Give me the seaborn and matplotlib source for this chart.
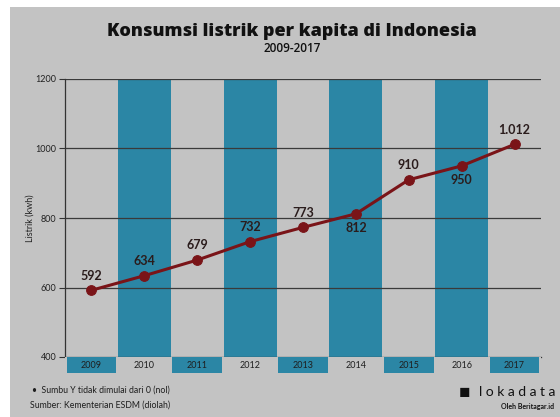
import matplotlib
matplotlib.use("Agg")
import matplotlib.pyplot as plt
import seaborn as sns
import pandas as pd
import numpy as np
from matplotlib.patches import Rectangle

# ---- data ----
years = ["2009", "2010", "2011", "2012", "2013", "2014", "2015", "2016", "2017"]
values = [592, 634, 679, 732, 773, 812, 910, 950, 1012]
value_labels = ["592", "634", "679", "732", "773", "812", "910", "950", "1.012"]
label_below = [False, False, False, False, False, True, False, True, False]
y_ticks = [400, 600, 800, 1000, 1200]
title = "Konsumsi listrik per kapita di Indonesia"
subtitle = "2009-2017"
y_label = "Listrik (kwh)"
note = "•  Sumbu Y tidak dimulai dari 0 (nol)"
source = "Sumber: Kementerian ESDM (diolah)"

BG = "#c3c3c3"
BLUE = "#2b86a5"
LINE = "#7a1418"
TXT = "#2a1c1c"

sns.set_theme(style="white")
plt.rcParams["font.family"] = ["Lato", "DejaVu Sans"]

W, H = 560, 417
fig = plt.figure(figsize=(W / 100, H / 100), dpi=100)
fig.patch.set_facecolor("white")
fig.patches.append(Rectangle((10 / W, 0), 1 - 10 / W, 1 - 7 / H,
                             transform=fig.transFigure, facecolor=BG,
                             edgecolor="none", zorder=-10))

ax_l, ax_r = 65, 541
ax_t, ax_b = 79, 357
ax = fig.add_axes([ax_l / W, 1 - ax_b / H, (ax_r - ax_l) / W, (ax_b - ax_t) / H])
ax.set_facecolor(BG)

idx = np.arange(len(years))
df = pd.DataFrame({"idx": idx, "year": years, "value": values,
                   "band": [1200 if i % 2 == 1 else 0 for i in idx],
                   "kind": ["b" if i % 2 == 1 else "g" for i in idx]})

# alternating blue columns
sns.barplot(data=df, x="idx", y="band", hue="kind",
            palette={"b": BLUE, "g": BG}, width=1.0, dodge=False,
            legend=False, ax=ax, zorder=1, linewidth=0, saturation=1)

for yv in y_ticks[1:]:
    ax.axhline(yv, color="#3a3a3a", lw=0.9, zorder=2)

sns.lineplot(data=df, x="idx", y="value", color=LINE, lw=2.2, marker="o",
             markersize=7, markeredgecolor=LINE, ax=ax, zorder=4)

for i, (v, lab, below) in enumerate(zip(values, value_labels, label_below)):
    dy = -10 if below else 10.5
    ax.annotate(lab, (i, v), xytext=(0, dy), textcoords="offset points",
                ha="center", va="center", fontsize=9, fontweight="bold",
                color=TXT, zorder=5)

ax.set_xlim(-0.5, len(years) - 0.5)
ax.set_ylim(400, 1200)
ax.set_yticks(y_ticks)
ax.set_yticklabels([str(t) for t in y_ticks], fontsize=6.5, color="#222222")
ax.set_xticks([])
ax.set_xlabel("")
ax.set_ylabel(y_label, fontsize=6.5, color="#222222", labelpad=1)
ax.tick_params(axis="y", length=4, width=0.8, color="#333333", pad=2, left=True)
for s in ["top", "right"]:
    ax.spines[s].set_visible(False)
ax.spines["left"].set_color("#333333")
ax.spines["left"].set_linewidth(0.9)
ax.spines["bottom"].set_color("#333333")
ax.spines["bottom"].set_linewidth(0.9)

# year band below the plot
bax = fig.add_axes([ax_l / W, 1 - 373 / H, (ax_r - ax_l) / W, 16 / H])
bax.set_facecolor(BG)
bdf = pd.DataFrame({"idx": idx,
                    "h": [1 if i % 2 == 0 else 0 for i in idx],
                    "kind": ["b" if i % 2 == 0 else "g" for i in idx]})
sns.barplot(data=bdf, x="idx", y="h", hue="kind", palette={"b": BLUE, "g": BG},
            width=0.94, dodge=False, legend=False, ax=bax, linewidth=0,
            saturation=1)
bax.set_xlim(-0.5, len(years) - 0.5)
bax.set_ylim(0, 1)
for i, yr in enumerate(years):
    bax.text(i, 0.5, yr, ha="center", va="center", fontsize=6.5,
             color="#1e1e1e")
bax.set_xticks([])
bax.set_yticks([])
bax.set_xlabel("")
bax.set_ylabel("")
for s in bax.spines.values():
    s.set_visible(False)

# titles
fig.text(292 / W, 1 - 32 / H, title, ha="center", va="center", fontsize=13,
         fontweight="heavy", color="#111111", family=["Open Sans", "DejaVu Sans"])
fig.text(292 / W, 1 - 48 / H, subtitle, ha="center", va="center", fontsize=8.5,
         fontweight="semibold", color="#111111",
         family=["Open Sans", "DejaVu Sans"])

# footer
fig.text(32 / W, 1 - 390 / H, note, ha="left", va="center", fontsize=6.3,
         color="#1e1e1e")
fig.text(30 / W, 1 - 405 / H, source, ha="left", va="center", fontsize=6.3,
         color="#1e1e1e")
fig.text(555 / W, 1 - 392 / H, "l o k a d a t a", ha="right", va="center",
         fontsize=10, color="#111111")
fig.text(554 / W, 1 - 406 / H, "Oleh Beritagar.id", ha="right", va="center",
         fontsize=5, fontweight="bold", color="#111111")
fig.text(470 / W, 1 - 392 / H, "◼", ha="right", va="center", fontsize=10,
         color="#111111", family=["DejaVu Sans"])

fig.savefig("out.png", dpi=100, facecolor=fig.get_facecolor())
